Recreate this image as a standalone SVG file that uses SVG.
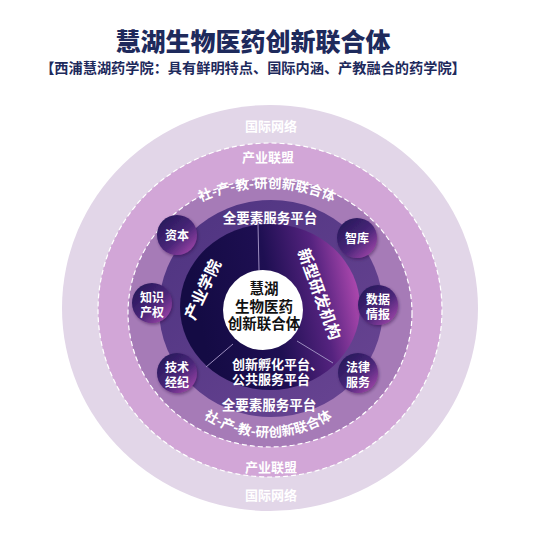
<svg xmlns="http://www.w3.org/2000/svg" width="554" height="554" viewBox="0 0 554 554">
<defs>
<style>
.t{font-family:"Noto Sans CJK SC","Noto Sans",sans-serif;font-weight:700;text-anchor:middle}
.w{fill:#ffffff}
.title{fill:#1E2A5C}
.lay{fill:#ffffff;font-size:13px}
.sat{fill:#ffffff;font-size:12px}
.dash{fill:none;stroke:#ffffff;stroke-width:1.2;stroke-dasharray:5 3}
.div{stroke:#9D8EC0;stroke-width:1;fill:none}
</style>
<linearGradient id="gInner" gradientUnits="userSpaceOnUse" x1="200" y1="320" x2="362" y2="290">
<stop offset="0" stop-color="#140B44"/>
<stop offset="0.45" stop-color="#1E0F52"/>
<stop offset="0.75" stop-color="#55237F"/>
<stop offset="1" stop-color="#B44BB2"/>
</linearGradient>
<linearGradient id="gRing" x1="0" y1="0" x2="1" y2="1">
<stop offset="0" stop-color="#4D3380"/>
<stop offset="1" stop-color="#6A4593"/>
</linearGradient>
<linearGradient id="gSat" x1="0.15" y1="0.1" x2="0.9" y2="0.9">
<stop offset="0" stop-color="#28195C"/>
<stop offset="0.55" stop-color="#4A2679"/>
<stop offset="1" stop-color="#9B43A6"/>
</linearGradient>
<filter id="sh" x="-30%" y="-30%" width="160%" height="160%">
<feDropShadow dx="1" dy="1.5" stdDeviation="1.5" flood-color="#2A1040" flood-opacity="0.45"/>
</filter>
<path id="arcTop" d="M 102 353 A 165 165 0 0 1 432 353"/>
<path id="arcBot" d="M 150 319 A 118 118 0 0 0 386 319"/>
</defs>
<rect width="554" height="554" fill="#ffffff"/>

<g id="title">
<text class="t title" x="253" y="51" style="font-size:25px;font-weight:900">慧湖生物医药创新联合体</text>
<text class="t title" x="253" y="73" style="font-size:14.2px">【西浦慧湖药学院：具有鲜明特点、国际内涵、产教融合的药学院】</text>
</g>

<g id="layer-international">
<ellipse cx="270" cy="308" rx="208" ry="203" fill="#E2D6E8"/>
<text class="t lay" x="271" y="131">国际网络</text>
<text class="t lay" x="271" y="500">国际网络</text>
</g>

<g id="layer-alliance">
<ellipse cx="270" cy="310" rx="172" ry="167" fill="#D2A6D7"/>
<ellipse class="dash" cx="270" cy="310" rx="172" ry="167"/>
<text class="t lay" x="268" y="162">产业联盟</text>
<text class="t lay" x="271" y="472">产业联盟</text>
</g>

<g id="layer-union">
<ellipse cx="270" cy="313" rx="142" ry="134" fill="#A67BB7"/>
<ellipse class="dash" cx="270" cy="313" rx="142" ry="134"/>
<text class="t lay" style="font-size:13.5px"><textPath href="#arcTop" startOffset="50%">社-产-教-研创新联合体</textPath></text>
<text class="t lay" style="font-size:13.5px"><textPath href="#arcBot" startOffset="50%">社-产-教-研创新联合体</textPath></text>
</g>

<g id="layer-platform">
<ellipse cx="271" cy="308.5" rx="112" ry="108.5" fill="url(#gRing)"/>
<text class="t lay" x="270" y="223" style="font-size:13.5px">全要素服务平台</text>
<text class="t lay" x="269" y="409.5" style="font-size:13.5px">全要素服务平台</text>
</g>

<g id="core-ring">
<ellipse cx="270" cy="307" rx="90" ry="83" fill="url(#gInner)"/>
</g>

<g id="connectors">
<line class="div" x1="259" y1="270" x2="258" y2="224"/>
<line class="div" x1="233" y1="344" x2="206" y2="367"/>
<line class="div" x1="297" y1="341" x2="333" y2="363"/>
</g>

<g id="sector-college">
<text class="t w" x="0" y="0" style="font-size:16px" transform="translate(208,292) rotate(-65)">产业学院</text>
</g>
<g id="sector-rd">
<text class="t w" x="0" y="0" style="font-size:16px" transform="translate(314,296) rotate(70)">新型研发机构</text>
</g>
<g id="sector-incubation">
<text class="t w" style="font-size:13px;text-anchor:start"><tspan x="232" y="369">创新孵化平台、</tspan><tspan x="232" y="384">公共服务平台</tspan></text>
</g>

<g id="center">
<circle cx="263" cy="310" r="40" fill="#ffffff"/>
<text class="t" style="font-size:14.5px;fill:#111111"><tspan x="264" y="294">慧湖</tspan><tspan x="264" y="312">生物医药</tspan><tspan x="264" y="329">创新联合体</tspan></text>
</g>

<g id="sat-capital">
<circle cx="177" cy="235" r="20" fill="url(#gSat)" filter="url(#sh)"/>
<text class="t sat" x="177" y="239.5">资本</text>
</g>
<g id="sat-ip">
<circle cx="152" cy="303" r="20" fill="url(#gSat)" filter="url(#sh)"/>
<text class="t sat"><tspan x="152" y="301.5">知识</tspan><tspan x="152" y="316.5">产权</tspan></text>
</g>
<g id="sat-tech">
<circle cx="177" cy="373" r="20" fill="url(#gSat)" filter="url(#sh)"/>
<text class="t sat"><tspan x="177" y="371.5">技术</tspan><tspan x="177" y="386.5">经纪</tspan></text>
</g>
<g id="sat-think">
<circle cx="357" cy="238" r="20" fill="url(#gSat)" filter="url(#sh)"/>
<text class="t sat" x="357" y="242.5">智库</text>
</g>
<g id="sat-data">
<circle cx="378" cy="305" r="20" fill="url(#gSat)" filter="url(#sh)"/>
<text class="t sat"><tspan x="378" y="303.5">数据</tspan><tspan x="378" y="318.5">情报</tspan></text>
</g>
<g id="sat-legal">
<circle cx="358" cy="373" r="20" fill="url(#gSat)" filter="url(#sh)"/>
<text class="t sat"><tspan x="358" y="371.5">法律</tspan><tspan x="358" y="386.5">服务</tspan></text>
</g>
</svg>
